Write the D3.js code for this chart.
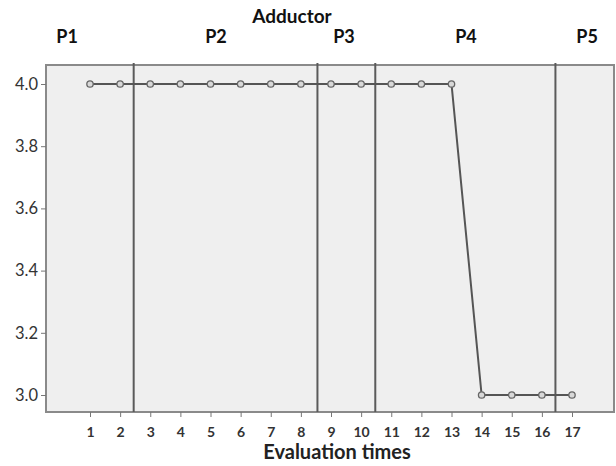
<!DOCTYPE html>
<html>
<head>
<meta charset="utf-8">
<script src="https://cdn.jsdelivr.net/npm/d3@7"></script>
<style>
  html, body { margin: 0; padding: 0; background: #fff; }
  svg { display: block; }
</style>
</head>
<body>
<svg id="chart" width="616" height="466"></svg>
<script>
// Evaluation sessions and adductor scores
const times = [1, 2, 3, 4, 5, 6, 7, 8, 9, 10, 11, 12, 13, 14, 15, 16, 17];
const scores = [4, 4, 4, 4, 4, 4, 4, 4, 4, 4, 4, 4, 4, 3, 3, 3, 3];
const yTicks = [3.0, 3.2, 3.4, 3.6, 3.8, 4.0];
// Phase boundaries (between evaluation times) and phase labels
const phaseBreaks = [2.45, 8.55, 10.47, 16.45];
const phaseNames = ["P1", "P2", "P3", "P4", "P5"];
const phaseLabelAt = [0.24, 5.18, 9.43, 13.48, 17.5];

const svg = d3.select("#chart");
const plotL = 46, plotR = 614, plotT = 65, plotB = 412;
const font = "Lato, 'Open Sans', sans-serif";

const x = d3.scaleLinear().domain([1, 17]).range([90, 572]);
const y = d3.scaleLinear().domain([3, 4]).range([395, 84]);

// plot background
svg.append("rect")
  .attr("x", plotL).attr("y", plotT)
  .attr("width", plotR - plotL).attr("height", plotB - plotT)
  .attr("fill", "#efefef").attr("stroke", "#8a8a8a").attr("stroke-width", 2);

// phase separators
svg.selectAll("line.phase").data(phaseBreaks).join("line")
  .attr("class", "phase")
  .attr("x1", d => x(d)).attr("x2", d => x(d))
  .attr("y1", plotT - 2).attr("y2", plotB)
  .attr("stroke", "#5a5a5a").attr("stroke-width", 2);

// y axis
const yAxis = d3.axisLeft(y).tickValues(yTicks).tickFormat(d3.format(".1f")).tickSize(5).tickPadding(3);
const gy = svg.append("g").attr("transform", `translate(${plotL},0)`).call(yAxis);
gy.select(".domain").remove();
gy.selectAll(".tick line").attr("stroke", "#777");
gy.selectAll(".tick text").attr("fill", "#333").style("font-family", font).style("font-size", "16.5px");

// x axis
const xAxis = d3.axisBottom(x).tickValues(times).tickFormat(d3.format("d")).tickSize(5).tickPadding(10);
const gx = svg.append("g").attr("transform", `translate(0,${plotB})`).call(xAxis);
gx.select(".domain").remove();
gx.selectAll(".tick line").attr("stroke", "#777");
gx.selectAll(".tick text").attr("fill", "#333").style("font-family", font)
  .style("font-size", "14px").style("font-weight", "bold");

// series line
const line = d3.line().x((d, i) => x(times[i])).y(d => y(d));
svg.append("path").datum(scores)
  .attr("d", line).attr("fill", "none")
  .attr("stroke", "#555").attr("stroke-width", 2);

// markers
svg.selectAll("circle.pt").data(scores).join("circle")
  .attr("class", "pt")
  .attr("cx", (d, i) => x(times[i])).attr("cy", d => y(d))
  .attr("r", 3.2)
  .attr("fill", "#d8d8d8").attr("stroke", "#666").attr("stroke-width", 1.3);

// title and phase labels
svg.append("text").text("Adductor")
  .attr("x", 292).attr("y", 23).attr("text-anchor", "middle")
  .style("font-family", font).style("font-size", "19px").style("font-weight", "bold").attr("fill", "#111");

svg.selectAll("text.phase").data(phaseNames).join("text")
  .attr("class", "phase").text(d => d)
  .attr("x", (d, i) => x(phaseLabelAt[i])).attr("y", 43).attr("text-anchor", "middle")
  .style("font-family", font).style("font-size", "18px").style("font-weight", "bold").attr("fill", "#111");

// x axis title
svg.append("text").text("Evaluation times")
  .attr("x", 337).attr("y", 459).attr("text-anchor", "middle")
  .style("font-family", font).style("font-size", "20px").style("font-weight", "bold").attr("fill", "#222");
</script>
</body>
</html>
